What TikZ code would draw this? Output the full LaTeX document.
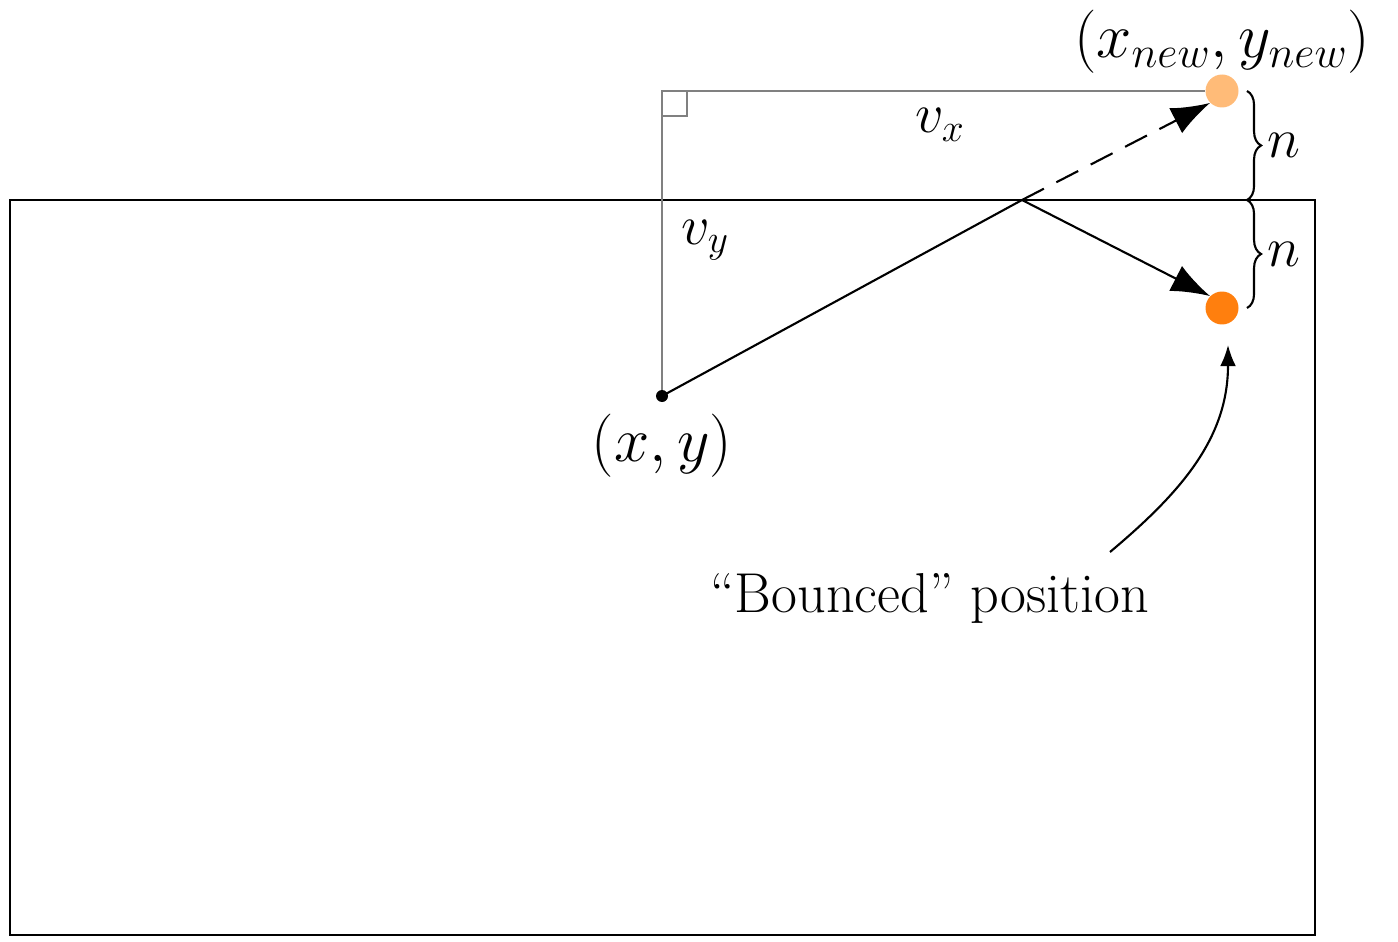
\documentclass[tikz,border=0pt]{standalone}
\usepackage{fix-cm}
\usetikzlibrary{decorations.pathreplacing,arrows.meta}
\definecolor{orA}{HTML}{FF7F0E}
\definecolor{orB}{HTML}{FFBB78}
\tikzset{lbl/.style={font=\fontsize{32}{38}\selectfont},
 tri/.style={draw=gray,line width=1.3pt},
 ln/.style={draw=black,line width=1.2pt},
 arr/.style={ln,-{Latex[length=22pt,width=16pt]}},
 brc/.style={ln,decorate,decoration={brace,amplitude=8pt}}}
\begin{document}
\begin{tikzpicture}[x=0.02cm,y=-0.02cm]
\useasboundingbox (0,0) rectangle (1398,942);
\draw[ln] (10,200) rectangle (1315,935);
\coordinate (p) at (662,396);
\coordinate (c) at (662,91);
\coordinate (b) at (1022,200);
\node[circle,fill=orB,minimum size=0.66cm,inner sep=0] (new) at (1222,91) {};
\node[circle,fill=orA,minimum size=0.66cm,inner sep=0] (bo) at (1222,308) {};
\draw[tri] (p) -- (c) -- (new.west);
\draw[tri,line width=1pt] (c) ++(0,25) -- ++(25,0) -- ++(0,-25);
\draw[ln] (p) -- (b);
\draw[arr,dashed,dash pattern=on 14pt off 8pt] (b) -- (new.south west);
\draw[arr] (b) -- (bo.north west);
\fill (p) circle (6);
\coordinate (t1) at (1247,91); \coordinate (t2) at (1247,200); \coordinate (t3) at (1247,308);
\draw[brc] (t1) -- (t2) node[midway,right=8pt,lbl] (n1) {$n$};
\draw[brc] (t2) -- (t3) node[midway,right=8pt,lbl] (n2) {$n$};
\node[lbl] (vx) at (940,125) {$v_x$};
\node[lbl] (vy) at (705,240) {$v_y$};
\node[lbl,font=\fontsize{36}{42}\selectfont] (xy) at (662,446) {$(x,y)$};
\node[lbl,font=\fontsize{36}{42}\selectfont] (xyn) at (1222,42) {$(x_{new},y_{new})$};
\node[lbl] (txt) at (930,598) {``Bounced'' position};
\draw[ln,-{Latex[length=12pt,width=9pt]}] (1110,552) to[out=40,in=-90] (1228,345);
\end{tikzpicture}
\end{document}
